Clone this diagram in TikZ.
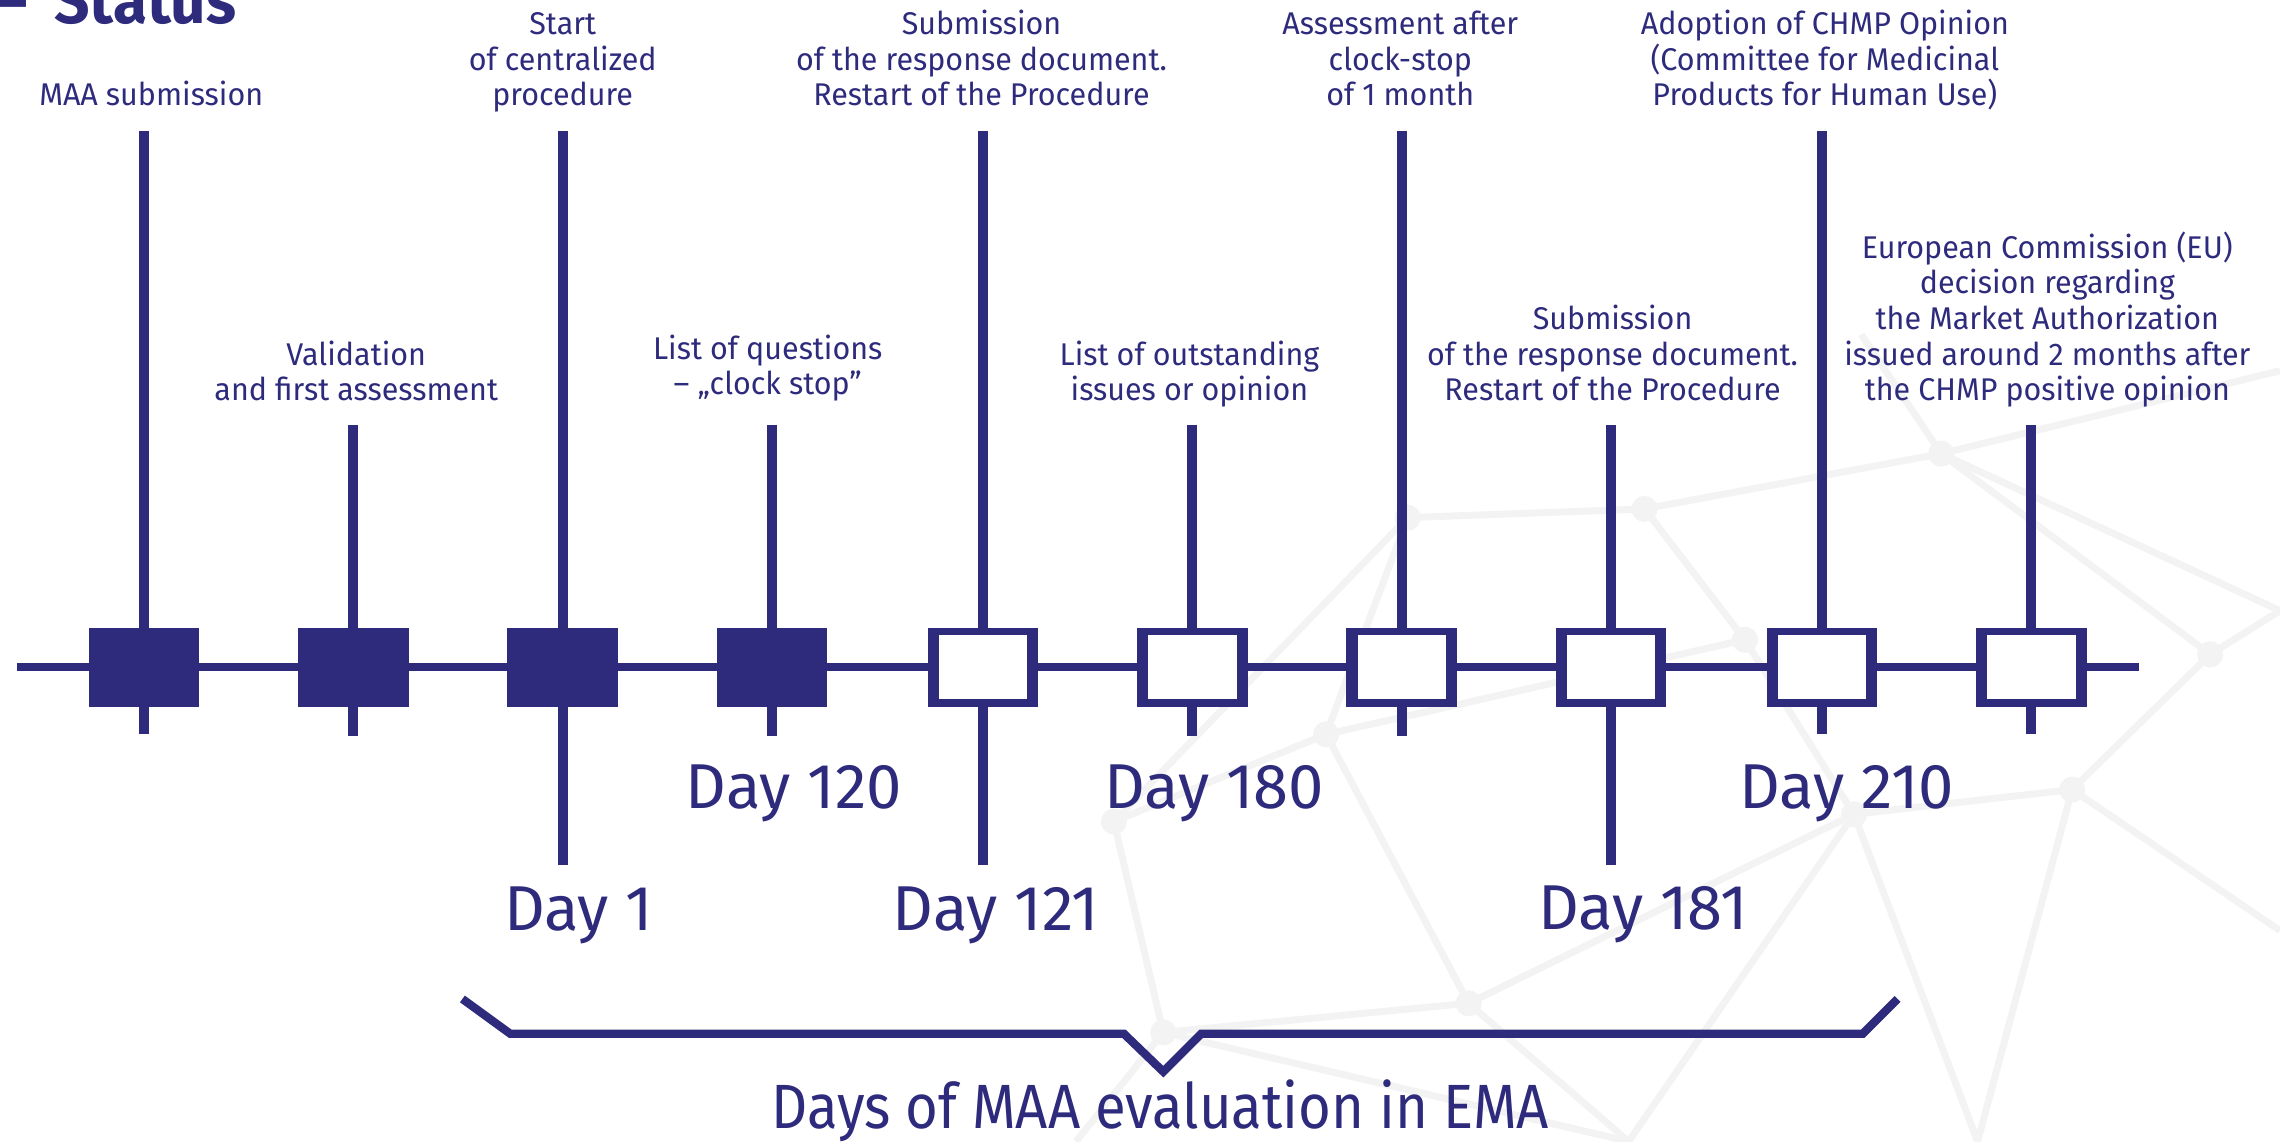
\documentclass[tikz,border=0pt]{standalone}
\usepackage{fontspec}
\setmainfont{Fira Sans}[FakeStretch=0.97]
\newfontfamily\bigfont{Fira Sans}[FakeStretch=0.9]
\newfontfamily\dayfont{Fira Sans}
\definecolor{navy}{RGB}{46,43,125}
\definecolor{netgray}{RGB}{243,243,243}
\tikzset{
  stem/.style={draw=navy, line width=3.45pt},
  tline/.style={draw=navy, line width=2.7pt},
  evbox/.style={rectangle, inner sep=0pt, minimum width=38pt, minimum height=27pt, fill=navy},
  openbox/.style={evbox, path picture={\fill[white] ([xshift=3.8pt,yshift=2.5pt]path picture bounding box.south west) rectangle ([xshift=-3.8pt,yshift=-2.5pt]path picture bounding box.north east);}},
  lbl/.style={text=navy, align=center, inner sep=0pt, anchor=south, font=\fontsize{10.8}{12.25}\selectfont},
  daylbl/.style={text=navy, inner sep=0pt, anchor=base, font=\dayfont\fontsize{21.8}{24}\selectfont},
  caplbl/.style={text=navy, inner sep=0pt, anchor=base, font=\bigfont\fontsize{21.5}{24}\selectfont},
  brace/.style={draw=navy, line width=2.85pt, line join=miter},
  net/.style={draw=netgray, line width=2.4pt},
  netdot/.style={fill=netgray, circle, inner sep=0pt, minimum size=9pt}
}
\begin{document}
\begin{tikzpicture}[x=0.5pt,y=-0.5pt]
\useasboundingbox (0,0) rectangle (1568,785);
% faint background network
\begin{scope}
\coordinate (nA) at (968,356); \coordinate (nB) at (1131,350);
\coordinate (nC) at (1335,312); \coordinate (nD) at (1568,255);
\coordinate (nE) at (912,505); \coordinate (nF) at (766,565);
\coordinate (nG) at (1010,690); \coordinate (nH) at (1275,560);
\coordinate (nI) at (1425,543); \coordinate (nJ) at (1520,450);
\coordinate (nK) at (800,710); \coordinate (nL) at (1120,785);
\coordinate (nM) at (1568,640); \coordinate (nN) at (1360,785);
\coordinate (nO) at (740,785); \coordinate (nP) at (1280,230);
\coordinate (nQ) at (1568,420); \coordinate (nR) at (1200,440);
\draw[net] (nA) -- (nB) -- (nC) -- (nD);
\draw[net] (nA) -- (nE) -- (nF) -- (nK) -- (nO);
\draw[net] (nE) -- (nG) -- (nK);
\draw[net] (nB) -- (nR) -- (nH) -- (nI) -- (nJ) -- (nC);
\draw[net] (nG) -- (nH) -- (nN);
\draw[net] (nI) -- (nM);
\draw[net] (nG) -- (nL) -- (nH);
\draw[net] (nI) -- (nN);
\draw[net] (nP) -- (nC) -- (nQ);
\draw[net] (nE) -- (nR);
\draw[net] (nF) -- (nA);
\draw[net] (nJ) -- (nQ);
\draw[net] (nK) -- (nL);
\foreach \p in {nA,nB,nC,nE,nF,nG,nH,nI,nJ,nK,nR}
  \node[netdot] at (\p) {};
\end{scope}
% title fragment
\node[text=navy, inner sep=0pt, anchor=base east, font=\fontsize{22}{24}\selectfont\bfseries] (title) at (163,16) {–\hspace{9pt}Status};
% timeline
\coordinate (tlL) at (12,459);
\coordinate (tlR) at (1471,459);
\draw[tline] (tlL) -- (tlR);
% stems ends
\coordinate (s1t) at (99,90);   \coordinate (s1b) at (99,505);
\coordinate (s2t) at (243,292); \coordinate (s2b) at (243,506);
\coordinate (s3t) at (387,90);  \coordinate (s3b) at (387,595);
\coordinate (s4t) at (531,292); \coordinate (s4b) at (531,506);
\coordinate (s5t) at (676,90);  \coordinate (s5b) at (676,595);
\coordinate (s6t) at (820,292); \coordinate (s6b) at (820,506);
\coordinate (s7t) at (964,90);  \coordinate (s7b) at (964,506);
\coordinate (s8t) at (1108,292);\coordinate (s8b) at (1108,595);
\coordinate (s9t) at (1253,90); \coordinate (s9b) at (1253,505);
\coordinate (s10t) at (1397,292);\coordinate (s10b) at (1397,505);
\foreach \i in {1,...,10} \draw[stem] (s\i t) -- (s\i b);
% boxes
\node[evbox] (b1) at (99,459) {};
\node[evbox] (b2) at (243,459) {};
\node[evbox] (b3) at (387,459) {};
\node[evbox] (b4) at (531,459) {};
\node[openbox] (b5) at (676,459) {};
\node[openbox] (b6) at (820,459) {};
\node[openbox] (b7) at (964,459) {};
\node[openbox] (b8) at (1108,459) {};
\node[openbox] (b9) at (1253,459) {};
\node[openbox] (b10) at (1397,459) {};
% upper labels
\node[lbl] (l1) at (104,80.4) {MAA submission\strut};
\node[lbl] (l3) at (387,80.4) {Start\\of centralized\\procedure\strut};
\node[lbl] (l5) at (675,80.4) {Submission\\of the response document.\\Restart of the Procedure\strut};
\node[lbl] (l7) at (963,80.4) {Assessment after\\clock-stop\\of 1 month\strut};
\node[lbl] (l9) at (1255,80.4) {Adoption of CHMP Opinion\\(Committee for Medicinal\\Products for Human Use)\strut};
\node[lbl] (l2) at (245,283.4) {Validation\\and first assessment\strut};
\node[lbl] (l4) at (528,279.4) {List of questions\\– „clock stop”\strut};
\node[lbl] (l6) at (818,283.4) {List of outstanding\\issues or opinion\strut};
\node[lbl] (l8) at (1109,283.4) {Submission\\of the response document.\\Restart of the Procedure\strut};
\node[lbl] (l10) at (1408,283.4) {European Commission (EU)\\decision regarding\\the Market Authorization\\issued around 2 months after\\the CHMP positive opinion\strut};
% day labels
\node[daylbl] (d1) at (398,640) {Day 1};
\node[daylbl] (d120) at (546,556) {Day 120};
\node[daylbl] (d121) at (685,640) {Day 121};
\node[daylbl] (d180) at (835,556) {Day 180};
\node[daylbl] (d181) at (1130,639) {Day 181};
\node[daylbl] (d210) at (1270,556) {Day 210};
% brace
\coordinate (br1) at (318,687);
\coordinate (br2) at (351,711);
\coordinate (br3) at (773,711);
\coordinate (br4) at (800,737);
\coordinate (br5) at (826,711);
\coordinate (br6) at (1281,711);
\coordinate (br7) at (1305,687);
\draw[brace] (br1) -- (br2) -- (br3) -- (br4) -- (br5) -- (br6) -- (br7);
\node[caplbl] (cap) at (798,776) {Days of MAA evaluation in EMA};
\end{tikzpicture}
\end{document}
